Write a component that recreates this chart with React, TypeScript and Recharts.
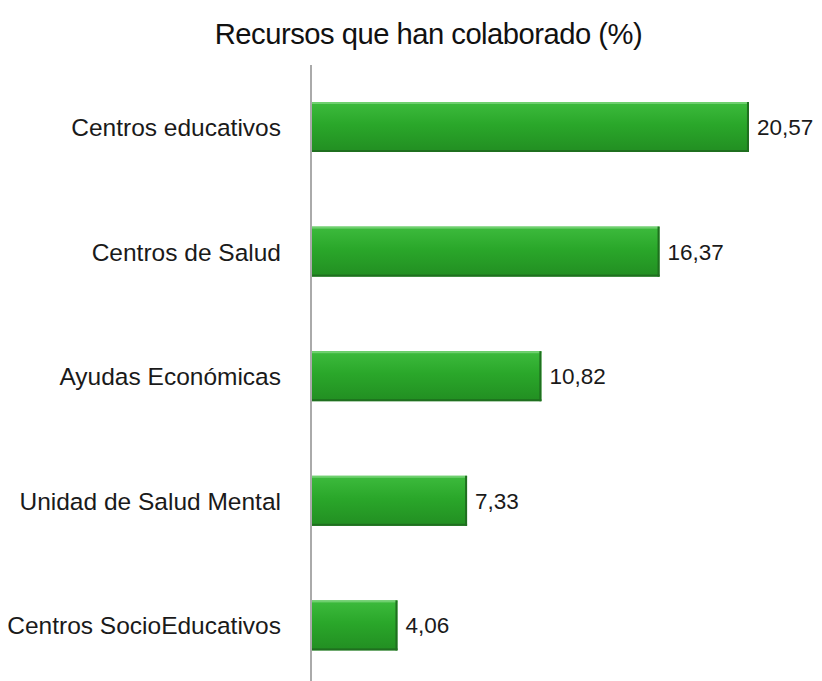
import React from 'react';
import { BarChart, Bar, XAxis, YAxis, LabelList } from 'recharts';

const categories = [
  'Centros educativos',
  'Centros de Salud',
  'Ayudas Económicas',
  'Unidad de Salud Mental',
  'Centros SocioEducativos',
];
const values = [20.57, 16.37, 10.82, 7.33, 4.06];

const data = categories.map((name, i) => ({ name, value: values[i] }));

const FONT = '"Liberation Sans", Arial, Helvetica, sans-serif';

const fmt = (v: number) => v.toFixed(2).replace('.', ',');

const GlossyBar = (props: any) => {
  const { x, y, width, height } = props;
  if (!width || width <= 0) return null;
  return (
    <g>
      <rect x={x} y={y} width={width} height={height} fill="url(#barGrad)" />
      <rect x={x} y={y} width={width} height={2} fill="#6fd06f" />
      <rect x={x + width - 2} y={y} width={2} height={height} fill="#1f6f1f" />
      <rect x={x} y={y + height - 2} width={width} height={2} fill="#1f6f1f" />
    </g>
  );
};

const App: React.FC = () => {
  return (
    <div style={{ width: 814, height: 673, overflow: 'hidden', position: 'relative', fontFamily: FONT }}>
      <div
        style={{
          position: 'absolute',
          top: 10,
          left: 0,
          width: 841,
          textAlign: 'center',
          fontSize: 29.2,
          letterSpacing: -0.5,
          color: '#111',
          whiteSpace: 'nowrap',
        }}
      >
        Recursos que han colaborado (%)
      </div>
      <BarChart
        width={814}
        height={680}
        data={data}
        layout="vertical"
        margin={{ top: 57, right: 0, bottom: 0, left: 0 }}
        barSize={50}
      >
        <defs>
          <linearGradient id="barGrad" x1="0" y1="0" x2="0" y2="1">
            <stop offset="0%" stopColor="#3dbb3d" />
            <stop offset="45%" stopColor="#2aa72a" />
            <stop offset="100%" stopColor="#228e22" />
          </linearGradient>
        </defs>
        <XAxis type="number" domain={[0, 24]} hide />
        <YAxis
          type="category"
          dataKey="name"
          width={303}
          axisLine={{ stroke: '#aaaaaa', strokeWidth: 2 }}
          tickLine={false}
          tickMargin={24}
          tick={{ fill: '#1a1a1a', fontSize: 24.5, fontFamily: FONT }}
        />
        <Bar dataKey="value" shape={<GlossyBar />} isAnimationActive={false}>
          <LabelList
            dataKey="value"
            position="right"
            offset={8}
            formatter={(v: any) => fmt(Number(v))}
            style={{ fill: '#1a1a1a', fontSize: 22.5, fontFamily: FONT }}
          />
        </Bar>
      </BarChart>
    </div>
  );
};

export default App;
